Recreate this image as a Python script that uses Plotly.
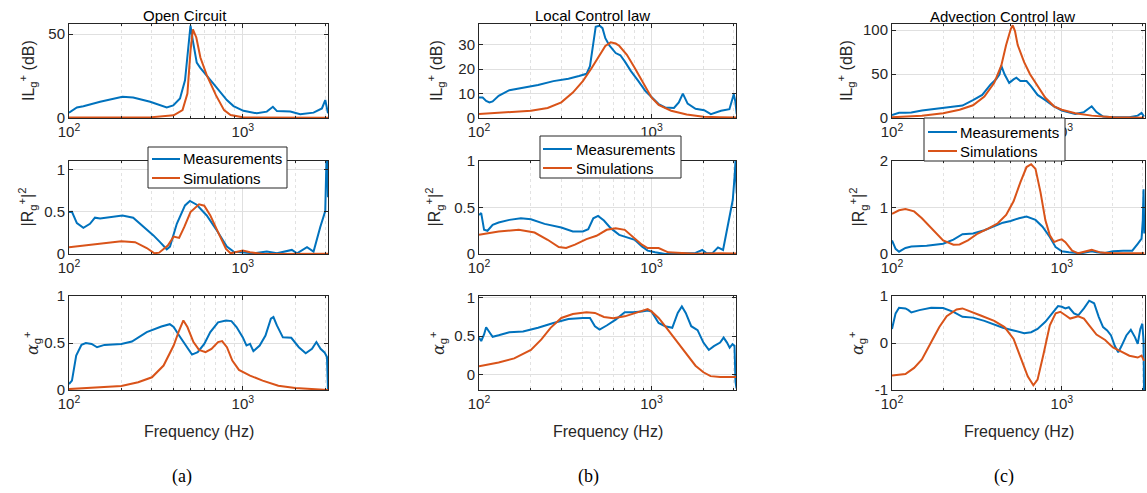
import plotly.graph_objects as go

# ---------------- DATA ----------------
# (a) Open Circuit
f_a_il_meas = [100, 111, 121, 151, 203, 234, 293, 365, 398, 435, 465, 487, 500, 516, 543, 568, 620, 709, 809, 884, 1009, 1203, 1374, 1489, 1572, 1875, 2139, 2552, 2851, 2980, 3090]
a_il_meas = [3.2, 6.3, 7.0, 9.7, 12.6, 12.2, 9.7, 6.3, 7.5, 11.6, 22.5, 44, 55, 46, 33, 30, 25.5, 18, 10.7, 7.1, 4.3, 2.8, 3.8, 6.7, 4.1, 3.8, 2.2, 3.2, 5.7, 10.7, 2.8]
f_a_il_sim = [100, 300, 400, 450, 480, 500, 516, 540, 570, 620, 700, 780, 850, 1000, 3090]
a_il_sim = [0.3, 0.5, 1.6, 4.7, 14.6, 40, 52.8, 48, 36, 25.5, 13.6, 4.7, 1.8, 0.4, 0.1]

f_a_r_meas = [100, 104, 111, 121, 132, 141, 151, 203, 234, 268, 306, 334, 365, 381, 417, 465, 496, 543, 620, 709, 809, 884, 1009, 1150, 1374, 1572, 1915, 2050, 2340, 2552, 2787, 2980, 3050, 3090]
a_r_meas = [0.496, 0.5, 0.365, 0.31, 0.357, 0.43, 0.42, 0.456, 0.43, 0.325, 0.22, 0.14, 0.056, 0.087, 0.357, 0.575, 0.627, 0.583, 0.456, 0.278, 0.087, 0.028, 0.02, 0.008, 0.028, 0.008, 0.048, 0.008, 0.08, 0.028, 0.317, 0.508, 1.4, 0.67]
f_a_r_sim = [100, 150, 200, 240, 280, 310, 330, 370, 400, 430, 460, 500, 560, 600, 650, 720, 800, 850, 1000, 1100, 1300, 3090]
a_r_sim = [0.08, 0.12, 0.15, 0.14, 0.071, 0.008, 0.016, 0.1, 0.206, 0.19, 0.317, 0.496, 0.587, 0.571, 0.456, 0.258, 0.06, 0.008, 0.04, 0.02, 0.0, 0.003]

f_a_al_meas = [100, 104, 110, 118, 125, 135, 145, 160, 200, 230, 280, 340, 380, 400, 430, 470, 510, 550, 600, 650, 720, 800, 860, 920, 1000, 1050, 1100, 1150, 1250, 1350, 1450, 1500, 1570, 1700, 1900, 2100, 2300, 2500, 2650, 2800, 2950, 3050, 3090]
a_al_meas = [0.064, 0.1, 0.367, 0.48, 0.5, 0.49, 0.455, 0.48, 0.49, 0.516, 0.616, 0.676, 0.7, 0.67, 0.58, 0.473, 0.377, 0.402, 0.491, 0.616, 0.72, 0.74, 0.733, 0.67, 0.56, 0.473, 0.49, 0.413, 0.473, 0.58, 0.758, 0.776, 0.687, 0.56, 0.555, 0.455, 0.39, 0.438, 0.51, 0.438, 0.4, 0.35, 0.0]
f_a_al_sim = [100, 150, 200, 250, 300, 350, 400, 430, 455, 480, 520, 560, 610, 660, 720, 760, 810, 870, 950, 1100, 1300, 1600, 2000, 3090]
a_al_sim = [0.01, 0.03, 0.043, 0.082, 0.135, 0.26, 0.473, 0.633, 0.74, 0.67, 0.51, 0.427, 0.402, 0.438, 0.51, 0.52, 0.455, 0.313, 0.214, 0.153, 0.1, 0.046, 0.021, 0.0]

# (b) Local Control law
f_b_il_meas = [100, 105, 110, 115, 120, 130, 150, 180, 220, 270, 330, 380, 420, 440, 460, 475, 500, 520, 540, 570, 620, 660, 700, 760, 840, 920, 1000, 1100, 1200, 1350, 1440, 1520, 1620, 1800, 2020, 2210, 2530, 2830, 3000, 3060, 3120]
b_il_meas = [8.4, 8.4, 7.0, 6.4, 6.8, 9.1, 11.4, 12.4, 13.5, 15.1, 16.1, 17.2, 18.1, 21.2, 31.4, 37.4, 37.8, 36.8, 32.7, 29.7, 26.6, 25.7, 23.2, 19.2, 15.1, 11.1, 8.6, 5.7, 4.3, 4.1, 6.4, 10, 5.9, 3.8, 3.2, 1.6, 3.0, 3.6, 9.7, 7.0, 1.6]
f_b_il_sim = [100, 150, 200, 250, 300, 350, 400, 450, 500, 540, 580, 620, 650, 720, 800, 900, 1000, 1100, 1300, 1600, 2000, 2500, 3120]
b_il_sim = [1.6, 2.3, 3.0, 4.1, 6.4, 10.4, 15.1, 20.5, 25.9, 29.5, 31.0, 30.5, 29.6, 25.9, 20.5, 13.8, 8.4, 5.4, 3.0, 1.4, 0.5, 0.3, 0.2]

f_b_r_meas = [100, 103, 107, 112, 120, 130, 150, 175, 200, 240, 300, 350, 400, 430, 460, 490, 530, 580, 650, 720, 800, 880, 950, 1050, 1200, 1500, 1800, 1970, 2090, 2250, 2430, 2600, 2720, 2850, 2960, 3040, 3070, 3120]
b_r_meas = [0.42, 0.44, 0.26, 0.25, 0.313, 0.338, 0.367, 0.384, 0.374, 0.324, 0.285, 0.242, 0.242, 0.267, 0.384, 0.41, 0.36, 0.278, 0.206, 0.181, 0.153, 0.082, 0.036, 0.018, 0.0, 0.007, 0.012, 0.043, 0.007, 0.007, 0.071, 0.043, 0.22, 0.436, 0.58, 0.86, 1.0, 0.65]
f_b_r_sim = [100, 130, 170, 210, 250, 290, 320, 360, 420, 480, 550, 620, 700, 780, 880, 950, 1100, 1250, 1500, 1800, 2500, 3120]
b_r_sim = [0.206, 0.242, 0.26, 0.231, 0.153, 0.075, 0.064, 0.1, 0.16, 0.196, 0.26, 0.278, 0.26, 0.189, 0.1, 0.064, 0.064, 0.018, 0.011, 0.004, 0.007, 0.005]

f_b_al_meas = [100, 103, 107, 110, 115, 120, 130, 150, 180, 220, 270, 330, 400, 440, 470, 500, 550, 620, 700, 780, 880, 950, 1000, 1100, 1200, 1320, 1420, 1500, 1580, 1700, 1850, 2000, 2150, 2300, 2500, 2620, 2740, 2840, 2950, 3030, 3070, 3110]
b_al_meas = [0.48, 0.436, 0.52, 0.615, 0.55, 0.49, 0.51, 0.55, 0.56, 0.607, 0.67, 0.722, 0.735, 0.735, 0.628, 0.585, 0.637, 0.714, 0.81, 0.81, 0.82, 0.833, 0.82, 0.67, 0.628, 0.607, 0.8, 0.885, 0.8, 0.628, 0.577, 0.415, 0.32, 0.37, 0.415, 0.48, 0.415, 0.35, 0.394, 0.373, -0.093, -0.18]
f_b_al_sim = [100, 130, 160, 200, 230, 260, 300, 350, 420, 470, 530, 600, 700, 800, 900, 950, 1000, 1100, 1200, 1400, 1600, 1800, 2000, 2200, 2500, 3120]
b_al_sim = [0.107, 0.158, 0.21, 0.32, 0.457, 0.607, 0.735, 0.786, 0.808, 0.8, 0.748, 0.73, 0.756, 0.8, 0.833, 0.85, 0.82, 0.735, 0.628, 0.436, 0.265, 0.115, 0.03, -0.02, -0.03, -0.03]

# (c) Advection Control law
f_c_il_meas = [100, 110, 120, 130, 150, 180, 220, 260, 300, 340, 380, 410, 430, 440, 460, 490, 520, 540, 570, 620, 660, 720, 800, 900, 1000, 1200, 1350, 1500, 1600, 1750, 2000, 2500, 2800, 2950, 3050]
c_il_meas = [3.5, 5.9, 5.9, 6.3, 8.6, 10.6, 12.5, 14.1, 20.4, 26.3, 38, 44, 49.8, 59.6, 49.8, 40, 44, 45.9, 42, 42, 36, 26.3, 20.4, 13.3, 8.6, 4.7, 6.7, 13.3, 6.7, 1.6, 0.8, 0.8, 2.7, 5.9, 1.6]
f_c_il_sim = [100, 150, 200, 250, 300, 350, 400, 440, 470, 500, 514, 530, 550, 600, 650, 720, 800, 900, 1000, 1200, 1500, 2000, 3050]
c_il_sim = [0.8, 2.7, 5.5, 9.4, 14.5, 24.3, 40, 59.6, 83, 101, 105.5, 99, 83, 63.5, 49.8, 36, 23, 13.3, 9.4, 5.5, 2.7, 0.8, 0.3]

f_c_r_meas = [100, 105, 110, 120, 130, 160, 200, 230, 260, 300, 350, 400, 450, 500, 560, 620, 700, 770, 850, 920, 1000, 1100, 1300, 1500, 1600, 1800, 2000, 2300, 2600, 2800, 2950, 3000, 3030, 3060]
c_r_meas = [0.29, 0.11, 0.05, 0.13, 0.16, 0.176, 0.22, 0.31, 0.425, 0.44, 0.51, 0.6, 0.674, 0.71, 0.77, 0.806, 0.733, 0.586, 0.366, 0.147, 0.059, 0.037, 0.015, 0.059, 0.037, 0.02, 0.059, 0.07, 0.07, 0.22, 0.33, 0.73, 1.39, 0.44]
f_c_r_sim = [100, 110, 120, 135, 150, 175, 200, 230, 250, 280, 320, 370, 420, 470, 520, 570, 620, 660, 700, 750, 800, 850, 900, 950, 1000, 1050, 1150, 1250, 1400, 1500, 1700, 2000, 3000, 3060]
c_r_sim = [0.864, 0.94, 0.967, 0.916, 0.77, 0.513, 0.293, 0.2, 0.205, 0.293, 0.44, 0.55, 0.66, 0.84, 1.135, 1.54, 1.87, 1.93, 1.83, 1.32, 0.73, 0.4, 0.256, 0.293, 0.315, 0.256, 0.073, 0.015, 0.059, 0.088, 0.03, 0.015, 0.015, 0.02]

f_c_al_meas = [100, 105, 110, 120, 125, 130, 145, 170, 200, 230, 260, 300, 350, 400, 450, 520, 600, 660, 720, 800, 880, 950, 1000, 1050, 1100, 1180, 1250, 1350, 1450, 1550, 1650, 1750, 1850, 1950, 2050, 2150, 2250, 2400, 2550, 2700, 2800, 2900, 2980, 3030, 3050]
c_al_meas = [0.3, 0.63, 0.75, 0.736, 0.7, 0.65, 0.7, 0.75, 0.743, 0.664, 0.556, 0.54, 0.47, 0.39, 0.325, 0.267, 0.21, 0.23, 0.3, 0.45, 0.63, 0.787, 0.77, 0.736, 0.76, 0.63, 0.59, 0.736, 0.9, 0.845, 0.556, 0.34, 0.267, 0.16, -0.06, -0.2, -0.06, 0.16, 0.28, 0.12, -0.02, 0.3, 0.41, 0.05, -1.0]
f_c_al_sim = [100, 120, 135, 150, 170, 190, 210, 240, 260, 290, 330, 400, 460, 520, 580, 630, 680, 720, 780, 850, 920, 980, 1050, 1120, 1250, 1350, 1450, 1600, 1800, 2000, 2200, 2500, 2800, 2950, 3050]
c_al_sim = [-0.69, -0.66, -0.53, -0.35, 0.014, 0.34, 0.57, 0.715, 0.736, 0.664, 0.59, 0.47, 0.34, 0.087, -0.35, -0.71, -0.9, -0.78, -0.24, 0.375, 0.63, 0.664, 0.59, 0.52, 0.57, 0.52, 0.375, 0.18, 0.065, -0.094, -0.166, -0.27, -0.31, -0.27, -0.38]

col_titles = ["Open Circuit", "Local Control law", "Advection Control law"]
captions = ["(a)", "(b)", "(c)"]
series_names = ["Measurements", "Simulations"]

# y tick values / labels per panel [col][row]
ytickvals = [
    [[0, 50], [0, 0.5, 1], [0, 0.5, 1]],
    [[0, 10, 20, 30], [0, 0.5, 1], [0, 0.5, 1]],
    [[0, 50, 100], [0, 1, 2], [-1, 0, 1]],
]
yticktext = [
    [["0", "50"], ["0", "0.5", "1"], ["0", "0.5", "1"]],
    [["0", "10", "20", "30"], ["0", "0.5", "1"], ["0", "0.5", "1"]],
    [["0", "50", "100"], ["0", "1", "2"], ["-1", "0", "1"]],
]
yranges = [
    [[0, 56], [0, 1.1], [0, 1.0]],
    [[0, 38.5], [0, 1.0], [-0.2, 1.02]],
    [[0, 107], [0, 2.0], [-1, 1]],
]
xtickvals = [100, 1000]
xticktext = ["10<sup>2</sup>", "10<sup>3</sup>"]
xminorvals = [200, 300, 400, 500, 600, 700, 800, 900, 2000, 3000]

panels = [
    [(f_a_il_meas, a_il_meas, f_a_il_sim, a_il_sim),
     (f_a_r_meas, a_r_meas, f_a_r_sim, a_r_sim),
     (f_a_al_meas, a_al_meas, f_a_al_sim, a_al_sim)],
    [(f_b_il_meas, b_il_meas, f_b_il_sim, b_il_sim),
     (f_b_r_meas, b_r_meas, f_b_r_sim, b_r_sim),
     (f_b_al_meas, b_al_meas, f_b_al_sim, b_al_sim)],
    [(f_c_il_meas, c_il_meas, f_c_il_sim, c_il_sim),
     (f_c_r_meas, c_r_meas, f_c_r_sim, c_r_sim),
     (f_c_al_meas, c_al_meas, f_c_al_sim, c_al_sim)],
]

# ---------------- LAYOUT ----------------
W, H = 1147, 493
BLUE = "#0072BD"
ORANGE = "#D95319"
AX = "#262626"
FONT = "Liberation Sans"
COLORS = [BLUE, ORANGE]

col_px = [(69, 328), (479, 736), (892, 1145)]
row_px = [(24, 118), (161, 254), (296, 390)]

def px_x(x):
    return x / W

def px_y(y):
    return 1 - y / H

fig = go.Figure()
layout = dict(
    width=W, height=H, margin=dict(l=0, r=0, t=0, b=0, autoexpand=False),
    paper_bgcolor="white", plot_bgcolor="white", showlegend=False,
    font=dict(family=FONT, size=14, color=AX),
)

idx = 0
for c in range(3):
    for r in range(3):
        idx += 1
        sfx = "" if idx == 1 else str(idx)
        xa, ya = "x" + sfx, "y" + sfx
        fm, vm, fs, vs = panels[c][r]
        fig.add_trace(go.Scatter(x=fm, y=vm, mode="lines", name=series_names[0],
                                 line=dict(color=BLUE, width=2), xaxis=xa, yaxis=ya))
        fig.add_trace(go.Scatter(x=fs, y=vs, mode="lines", name=series_names[1],
                                 line=dict(color=ORANGE, width=2), xaxis=xa, yaxis=ya))
        x0, x1 = col_px[c]
        y0, y1 = row_px[r]
        layout["xaxis" + sfx] = dict(
            type="log", range=[2, 3.49], domain=[px_x(x0), px_x(x1)], anchor=ya,
            automargin=False,
            tickvals=xtickvals, ticktext=xticktext, ticks="inside", ticklen=4,
            tickcolor=AX, showline=True, linecolor=AX, linewidth=1, mirror="allticks",
            showgrid=True, gridcolor="#e0e0e0", gridwidth=1, zeroline=False,
            tickfont=dict(size=15, color=AX),
            minor=dict(tickvals=xminorvals, ticks="inside", ticklen=2, tickcolor=AX,
                       showgrid=True, gridcolor="#e2e2e2", griddash="dot", gridwidth=1),
        )
        layout["yaxis" + sfx] = dict(
            range=yranges[c][r], domain=[px_y(y1), px_y(y0)], anchor=xa,
            automargin=False,
            tickvals=ytickvals[c][r], ticktext=yticktext[c][r], ticks="inside", ticklen=4,
            tickcolor=AX, showline=True, linecolor=AX, linewidth=1, mirror="allticks",
            showgrid=True, gridcolor="#e0e0e0", gridwidth=1, zeroline=False,
            tickfont=dict(size=15, color=AX),
        )

# legend boxes (one per column), drawn as box + sample lines + text
# (box left, box top, box right, box bottom, line x0, line x1, text x, row1 y, row2 y)
legend_geo = [
    (148, 147, 287, 188, 152, 180, 181, 159, 178),
    (540, 136, 681, 178, 543, 572, 574, 149, 168),
    (924, 118, 1065, 161, 928, 957, 958, 132, 151),
]
shapes = []
ann = []
for c in range(3):
    bl, bt, br, bb, lx0, lx1, tx, ry1, ry2 = legend_geo[c]
    shapes.append(dict(type="rect", xref="paper", yref="paper", layer="above",
                       x0=px_x(bl), x1=px_x(br), y0=px_y(bb), y1=px_y(bt),
                       fillcolor="white", line=dict(color=AX, width=1)))
    for k, ry in enumerate([ry1, ry2]):
        shapes.append(dict(type="line", xref="paper", yref="paper", layer="above",
                           x0=px_x(lx0), x1=px_x(lx1), y0=px_y(ry), y1=px_y(ry),
                           line=dict(color=COLORS[k], width=2)))
        ann.append(dict(text=series_names[k], x=px_x(tx), y=px_y(ry), xref="paper", yref="paper",
                        showarrow=False, xanchor="left", yanchor="middle",
                        font=dict(family=FONT, size=15, color="black")))

title_pos = [(185, 15), (592, 15), (1002, 17)]
for c in range(3):
    tx, ty = title_pos[c]
    ann.append(dict(text=col_titles[c], x=px_x(tx), y=px_y(ty), xref="paper", yref="paper",
                    showarrow=False, xanchor="center", yanchor="middle",
                    font=dict(family=FONT, size=15, color="black")))
    cx = (col_px[c][0] + col_px[c][1]) / 2
    ann.append(dict(text="Frequency (Hz)", x=px_x(cx), y=px_y(431), xref="paper", yref="paper",
                    showarrow=False, xanchor="center", yanchor="middle",
                    font=dict(family=FONT, size=16, color=AX)))
    cap_x = [182, 588, 1004][c]
    ann.append(dict(text=captions[c], x=px_x(cap_x), y=px_y(476), xref="paper", yref="paper",
                    showarrow=False, xanchor="center", yanchor="middle",
                    font=dict(family="Liberation Serif", size=18, color="black")))

ylabels = ["IL<sub>g</sub><sup>+</sup> (dB)",
           "|R<sub>g</sub><sup>+</sup>|<sup>2</sup>",
           "<span style='font-family:DejaVu Serif'><i>α</i></span><sub>g</sub><sup>+</sup>"]
ylab_x = [[28, 28, 32], [436, 435, 438], [846, 859, 857]]
for c in range(3):
    for r in range(3):
        cy = (row_px[r][0] + row_px[r][1]) / 2
        ann.append(dict(text=ylabels[r], x=px_x(ylab_x[c][r]), y=px_y(cy), xref="paper", yref="paper",
                        showarrow=False, xanchor="center", yanchor="middle", textangle=-90,
                        font=dict(family=FONT, size=16, color=AX)))

layout["annotations"] = ann
layout["shapes"] = shapes
fig.update_layout(**layout)
fig.write_html("out.html", config={"displayModeBar": False},
               post_script="document.body.style.margin='0';document.body.style.padding='0';")
